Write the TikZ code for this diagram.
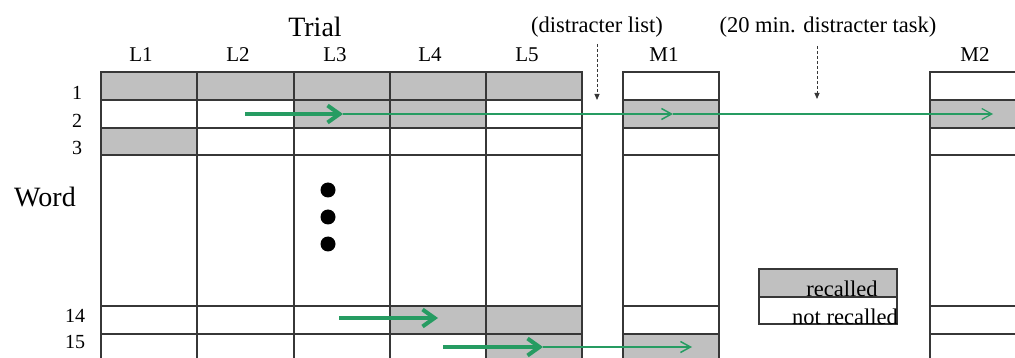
\documentclass[tikz,border=0pt]{standalone}
\usepackage{fontspec}
\setmainfont{Liberation Serif}
\usetikzlibrary{arrows.meta}
\definecolor{recgray}{RGB}{192,192,192}
\definecolor{gridgray}{RGB}{55,55,55}
\definecolor{arrgreen}{RGB}{38,156,98}

\begin{document}
\begin{tikzpicture}[x=1pt, y=-1pt,
cell/.style={draw=gridgray, line width=1.2pt},
hit/.style={cell, fill=recgray},
lab/.style={anchor=base, inner sep=0pt, font=\fontsize{21}{24}\selectfont},
big/.style={anchor=base, inner sep=0pt, font=\fontsize{28}{32}\selectfont},
note/.style={anchor=base, inner sep=0pt, font=\fontsize{22.5}{26}\selectfont},
fat/.style={draw=arrgreen, line width=4pt, -{Straight Barb[length=12pt, width=17pt]}},
slim/.style={draw=arrgreen, line width=1.5pt, -{Straight Barb[length=10pt, width=11pt]}},
hint/.style={draw=gridgray, densely dashed, line width=1pt, -{Triangle[length=6pt, width=5pt]}},
dot/.style={circle, fill, inner sep=0pt, minimum width=14pt, minimum height=15pt}]%styles for cells, labels and arrows
\useasboundingbox (0,0) rectangle (1015,358);
\clip (0,0) rectangle (1015,358);
% recalled cells
\foreach \a/\b/\c/\d in {101/72/582/100, 294/100/486/128, 623/100/719/128, 930/100/1030/128,
  101/128/197/155, 390/306/582/334, 486/334/582/365, 623/334/719/365}
  \fill[recgray] (\a,\b) rectangle (\c,\d);
% columns with row lines
\foreach \a/\c in {101/197, 197/294, 294/390, 390/486, 486/582, 623/719, 930/1030}{
  \draw[cell] (\a,72) rectangle (\c,365);
  \foreach \y in {100,128,155,306,334} \draw[cell] (\a,\y) -- (\c,\y);
}
% headings
\node[big] (trial) at (315,37) {Trial};
\foreach \n/\x in {L1/141, L2/238, L3/335, L4/430, L5/527, M1/664, M2/975}
  \node[lab] (col-\n) at (\x,62) {\n};
\node[note] (dlist) at (597,33) {(distracter list)};
\node[note] (dtask) at (828,33) {(20 min. distracter task)};
\coordinate (dlist-a) at (597,44); \coordinate (dlist-b) at (597,100);
\coordinate (dtask-a) at (817,46); \coordinate (dtask-b) at (817,99);
\draw[hint] (dlist-a) -- (dlist-b);
\draw[hint] (dtask-a) -- (dtask-b);
% row numbers
\node[big] (word) at (45,207) {Word};
\foreach \n/\x/\y in {1/77/100, 2/77/128, 3/77/155, 14/75/322, 15/75/348}
  \node[lab, font=\fontsize{20}{24}\selectfont] (row-\n) at (\x,\y) {\n};
\foreach \i/\y in {1/190, 2/217, 3/244}
  \node[dot] (dot-\i) at (328,\y) {};
% legend
\node[hit, minimum width=138pt, minimum height=28pt, inner sep=0pt] (key-rec) at (828,283) {};
\node[cell, minimum width=138pt, minimum height=27pt, inner sep=0pt] (key-not) at (828,310.5) {};
\node[note] (key-rec-t) at (842,297) {recalled};
\node[note] (key-not-t) at (845,324) {not recalled};
% word 2, word 14 and word 15
\coordinate (w2-a) at (245,114); \coordinate (w2-b) at (343,114);
\coordinate (w2-c) at (673,114); \coordinate (w2-d) at (993,114);
\draw[fat] (w2-a) -- (w2-b);
\draw[slim] (w2-b) -- (w2-c);
\draw[slim, line width=1.2pt] (w2-c) -- (w2-d);
\coordinate (w14-a) at (339,318); \coordinate (w14-b) at (438,318);
\draw[fat] (w14-a) -- (w14-b);
\coordinate (w15-a) at (443,347); \coordinate (w15-b) at (543,347);
\coordinate (w15-c) at (692,347);
\draw[fat] (w15-a) -- (w15-b);
\draw[slim] (w15-b) -- (w15-c);
\end{tikzpicture}
\end{document}
